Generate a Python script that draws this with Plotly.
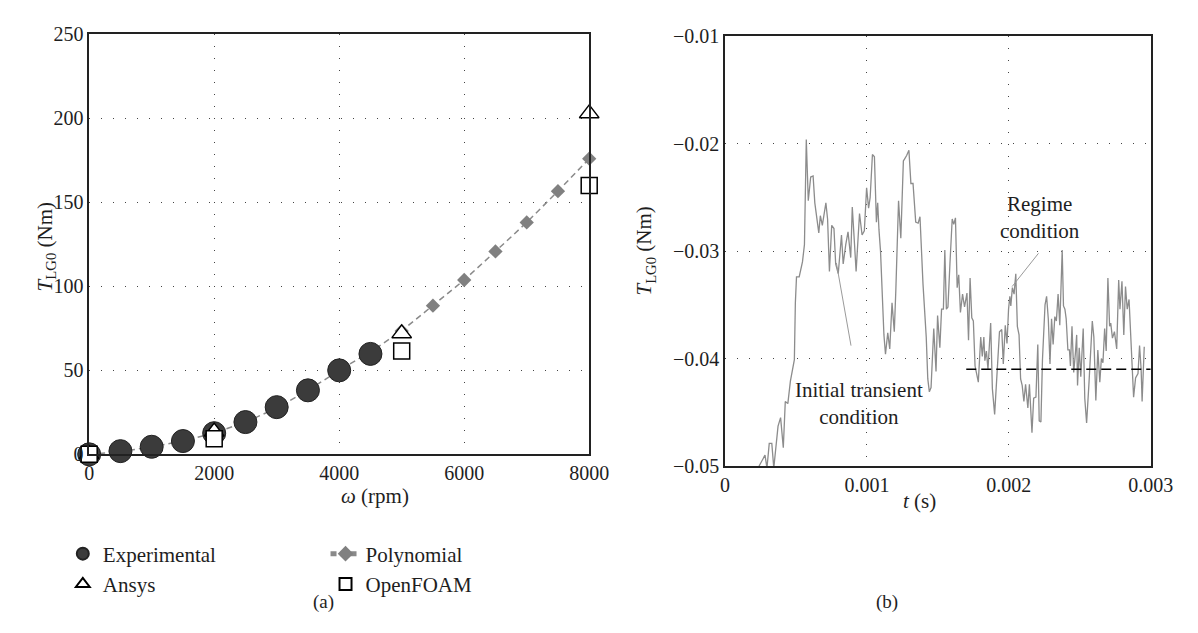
import plotly.graph_objects as go

# ---------------- Panel (a) data ----------------
rpm_exp = [0, 500, 1000, 1500, 2000, 2500, 3000, 3500, 4000, 4500]
torque_exp = [0.0, 1.9, 4.5, 7.9, 12.6, 19.2, 28.1, 38.1, 50.0, 59.8]

rpm_poly = [0, 500, 1000, 1500, 2000, 2500, 3000, 3500, 4000, 4500,
            5000, 5500, 6000, 6500, 7000, 7500, 8000]
torque_poly = [0.0, 1.6, 4.4, 8.0, 12.7, 19.1, 27.6, 38.0, 50.0, 61.0,
               73.5, 88.5, 103.8, 120.8, 138.1, 156.7, 176.0]

rpm_ansys = [0, 2000, 5000, 8000]
torque_ansys = [0.0, 13.5, 72.0, 203.0]

rpm_foam = [0, 2000, 5000, 8000]
torque_foam = [0.0, 9.2, 61.5, 160.0]

a_xticks = [0, 2000, 4000, 6000, 8000]
a_xticktext = ["0", "2000", "4000", "6000", "8000"]
a_yticks = [0, 50, 100, 150, 200, 250]
a_yticktext = ["0", "50", "100", "150", "200", "250"]

# ---------------- Panel (b) data ----------------
t_ms = [0.22, 0.241, 0.282, 0.296, 0.312, 0.330, 0.344, 0.374, 0.392, 0.411, 0.425,
        0.443, 0.461, 0.489, 0.496, 0.504, 0.523, 0.546, 0.560, 0.573, 0.587,
        0.604, 0.621, 0.633, 0.661, 0.672, 0.686, 0.711, 0.723, 0.736, 0.752,
        0.768, 0.780, 0.798, 0.821, 0.833, 0.851, 0.867, 0.886, 0.897, 0.913,
        0.924, 0.948, 0.966, 0.982, 0.998, 1.012, 1.023, 1.039, 1.053, 1.067,
        1.076, 1.085, 1.096, 1.120, 1.131, 1.147, 1.161, 1.177, 1.193, 1.204,
        1.223, 1.239, 1.257, 1.266, 1.280, 1.296, 1.310, 1.325, 1.344, 1.361,
        1.374, 1.395, 1.406, 1.418, 1.429, 1.440, 1.452, 1.471, 1.487, 1.498,
        1.514, 1.526, 1.539, 1.549, 1.560, 1.571, 1.585, 1.601, 1.612, 1.624,
        1.636, 1.647, 1.659, 1.674, 1.688, 1.705, 1.716, 1.727, 1.739, 1.750,
        1.762, 1.785, 1.802, 1.813, 1.824, 1.831, 1.842, 1.853, 1.872, 1.884,
        1.900, 1.918, 1.934, 1.950, 1.961, 1.975, 1.987, 1.998, 2.007, 2.014,
        2.025, 2.037, 2.049, 2.060, 2.072, 2.083, 2.094, 2.106, 2.118, 2.134,
        2.145, 2.163, 2.175, 2.191, 2.204, 2.214, 2.226, 2.237, 2.255, 2.266,
        2.278, 2.290, 2.301, 2.312, 2.324, 2.335, 2.347, 2.359, 2.376, 2.385,
        2.395, 2.404, 2.416, 2.427, 2.434, 2.445, 2.457, 2.469, 2.478, 2.484,
        2.496, 2.507, 2.524, 2.535, 2.548, 2.565, 2.576, 2.588, 2.599, 2.613,
        2.627, 2.641, 2.652, 2.663, 2.675, 2.686, 2.698, 2.710, 2.718, 2.730,
        2.744, 2.760, 2.774, 2.783, 2.797, 2.810, 2.822, 2.834, 2.847, 2.863,
        2.879, 2.893, 2.910, 2.921, 2.932, 2.939, 2.954]
torque_t = [-0.0520, -0.0500, -0.0490, -0.0502, -0.0479, -0.0479, -0.0502, -0.0463, -0.0455, -0.0483, -0.0440,
            -0.0442, -0.0421, -0.0401, -0.0348, -0.0324, -0.0324, -0.0310, -0.0294, -0.0196, -0.0253,
            -0.0231, -0.0230, -0.0255, -0.0283, -0.0267, -0.0276, -0.0255, -0.0270, -0.0319, -0.0276,
            -0.0279, -0.0312, -0.0321, -0.0285, -0.0312, -0.0294, -0.0282, -0.0306, -0.0259, -0.0294,
            -0.0319, -0.0265, -0.0285, -0.0281, -0.0241, -0.0260, -0.0250, -0.0210, -0.0212, -0.0273,
            -0.0255, -0.0280, -0.0300, -0.0378, -0.0396, -0.0376, -0.0391, -0.0348, -0.0375, -0.0336,
            -0.0253, -0.0288, -0.0216, -0.0214, -0.0211, -0.0206, -0.0237, -0.0237, -0.0273, -0.0274,
            -0.0268, -0.0330, -0.0354, -0.0380, -0.0419, -0.0431, -0.0427, -0.0372, -0.0412, -0.0360,
            -0.0390, -0.0354, -0.0354, -0.0299, -0.0354, -0.0352, -0.0312, -0.0270, -0.0275, -0.0269,
            -0.0334, -0.0322, -0.0357, -0.0340, -0.0352, -0.0339, -0.0383, -0.0325, -0.0362, -0.0365,
            -0.0407, -0.0422, -0.0380, -0.0398, -0.0380, -0.0402, -0.0393, -0.0410, -0.0367, -0.0428,
            -0.0452, -0.0413, -0.0375, -0.0373, -0.0405, -0.0369, -0.0386, -0.0354, -0.0342, -0.0351,
            -0.0334, -0.0340, -0.0321, -0.0370, -0.0378, -0.0419, -0.0425, -0.0440, -0.0424, -0.0446,
            -0.0424, -0.0469, -0.0437, -0.0436, -0.0387, -0.0458, -0.0459, -0.0401, -0.0350, -0.0342,
            -0.0363, -0.0405, -0.0363, -0.0387, -0.0361, -0.0365, -0.0340, -0.0369, -0.0299, -0.0351,
            -0.0354, -0.0363, -0.0392, -0.0392, -0.0407, -0.0370, -0.0413, -0.0395, -0.0378, -0.0425,
            -0.0390, -0.0417, -0.0372, -0.0437, -0.0460, -0.0422, -0.0395, -0.0365, -0.0380, -0.0439,
            -0.0392, -0.0422, -0.0400, -0.0404, -0.0372, -0.0393, -0.0325, -0.0370, -0.0367, -0.0381,
            -0.0375, -0.0391, -0.0327, -0.0354, -0.0328, -0.0378, -0.0333, -0.0354, -0.0345, -0.0398,
            -0.0436, -0.0418, -0.0414, -0.0388, -0.0410, -0.0440, -0.0389]
t_s = [v * 1e-3 for v in t_ms]

regime_t = [0.0017, 0.003]
regime_val = [-0.041, -0.041]

b_xticks = [0, 0.001, 0.002, 0.003]
b_xticktext = ["0", "0.001", "0.002", "0.003"]
b_yticks = [-0.05, -0.04, -0.03, -0.02, -0.01]
b_yticktext = ["\u22120.05", "\u22120.04", "\u22120.03", "\u22120.02", "\u22120.01"]

FONT = "Liberation Serif"
W, H = 1198, 633
TXT = "#1e1e1e"

fig = go.Figure()

# Panel (a)
fig.add_trace(go.Scatter(
    x=rpm_poly, y=torque_poly, mode="lines+markers", name="Polynomial",
    line=dict(color="#8a8a8a", width=1.5, dash="6px,4px"),
    marker=dict(symbol="diamond", size=11, color="#808080"),
    xaxis="x", yaxis="y", legend="legend2", cliponaxis=False))
fig.add_trace(go.Scatter(
    x=rpm_exp, y=torque_exp, mode="markers", name="Experimental",
    marker=dict(symbol="circle", size=23, color="#3b3b3b", line=dict(color="#222222", width=1)),
    xaxis="x", yaxis="y", legend="legend", cliponaxis=False))
fig.add_trace(go.Scatter(
    x=rpm_ansys, y=torque_ansys, mode="markers", name="Ansys",
    marker=dict(symbol="triangle-up", size=17, color="white", line=dict(color="black", width=1.5)),
    xaxis="x", yaxis="y", legend="legend", cliponaxis=False))
fig.add_trace(go.Scatter(
    x=rpm_foam, y=torque_foam, mode="markers", name="OpenFOAM",
    marker=dict(symbol="square", size=16, color="white", line=dict(color="black", width=1.5)),
    xaxis="x", yaxis="y", legend="legend2", cliponaxis=False))

# Panel (b)
fig.add_trace(go.Scatter(
    x=t_s, y=torque_t, mode="lines", name="Torque", showlegend=False,
    line=dict(color="#8c8c8c", width=1.3), xaxis="x2", yaxis="y2"))
fig.add_trace(go.Scatter(
    x=regime_t, y=regime_val, mode="lines", name="Regime mean", showlegend=False,
    line=dict(color="black", width=1.5, dash="10px,5px"), xaxis="x2", yaxis="y2"))

axis_common = dict(
    showline=True, linecolor="#222222", linewidth=1.5, mirror=True,
    ticks="", showgrid=True, gridcolor="#444444", gridwidth=1, griddash="1px,11px",
    zeroline=False, tickfont=dict(family=FONT, size=20, color=TXT),
)

legend_font = dict(family=FONT, size=21, color=TXT)
fig.update_layout(
    width=W, height=H,
    margin=dict(l=0, r=0, t=0, b=0),
    paper_bgcolor="white", plot_bgcolor="white",
    font=dict(family=FONT, size=20, color=TXT),
    xaxis=dict(domain=[78 / W, 590 / W], range=[0, 8000], tickvals=a_xticks, ticktext=a_xticktext,
               anchor="y", **axis_common),
    yaxis=dict(domain=[1 - 451 / H, 1 - 16 / H], range=[0, 250], tickvals=a_yticks, ticktext=a_yticktext,
               anchor="x", **axis_common),
    xaxis2=dict(domain=[729 / W, 1165 / W], range=[0, 0.003], tickvals=b_xticks, ticktext=b_xticktext,
                anchor="y2", **axis_common),
    yaxis2=dict(domain=[1 - 463 / H, 1 - 18 / H], range=[-0.05, -0.01], tickvals=b_yticks,
                ticktext=b_yticktext, anchor="x2", **axis_common),
    legend=dict(x=51 / W, y=1 - 533 / H, xanchor="left", yanchor="top", bgcolor="rgba(0,0,0,0)",
                font=legend_font, itemsizing="constant", tracegroupgap=0),
    legend2=dict(x=320 / W, y=1 - 533 / H, xanchor="left", yanchor="top", bgcolor="rgba(0,0,0,0)",
                 font=legend_font, itemsizing="constant", tracegroupgap=0),
)

ann_font = dict(family=FONT, size=21, color=TXT)
annotations = [
    dict(text="<i>\u03c9</i> (rpm)", x=334 / W, y=1 - 509 / H, xref="paper", yref="paper",
         showarrow=False, font=ann_font),
    dict(text="<i>T</i><sub>LG0</sub> (Nm)", x=18 / W, y=1 - 236 / H, xref="paper", yref="paper",
         showarrow=False, textangle=-90, font=ann_font),
    dict(text="<i>t</i> (s)", x=947 / W, y=1 - 514 / H, xref="paper", yref="paper",
         showarrow=False, font=ann_font),
    dict(text="<i>T</i><sub>LG0</sub> (Nm)", x=647 / W, y=1 - 240 / H, xref="paper", yref="paper",
         showarrow=False, textangle=-90, font=ann_font),
    dict(text="(a)", x=305 / W, y=1 - 617 / H, xref="paper", yref="paper",
         showarrow=False, font=dict(family=FONT, size=19, color=TXT)),
    dict(text="(b)", x=908 / W, y=1 - 617 / H, xref="paper", yref="paper",
         showarrow=False, font=dict(family=FONT, size=19, color=TXT)),
    dict(text="Initial transient<br>condition", x=0.000943, y=-0.0442, xref="x2", yref="y2",
         showarrow=False, font=ann_font),
    dict(text="Regime<br>condition", x=0.002222, y=-0.0269, xref="x2", yref="y2",
         showarrow=False, font=ann_font),
]
fig.update_layout(annotations=annotations)

fig.add_shape(type="line", xref="x2", yref="y2", x0=0.000785, y0=-0.0311, x1=0.000888, y1=-0.0388,
              line=dict(color="#9a9a9a", width=1))
fig.add_shape(type="line", xref="x2", yref="y2", x0=0.002209, y0=-0.0302, x1=0.002023, y1=-0.0333,
              line=dict(color="#9a9a9a", width=1))

fig.write_html("out.html")
